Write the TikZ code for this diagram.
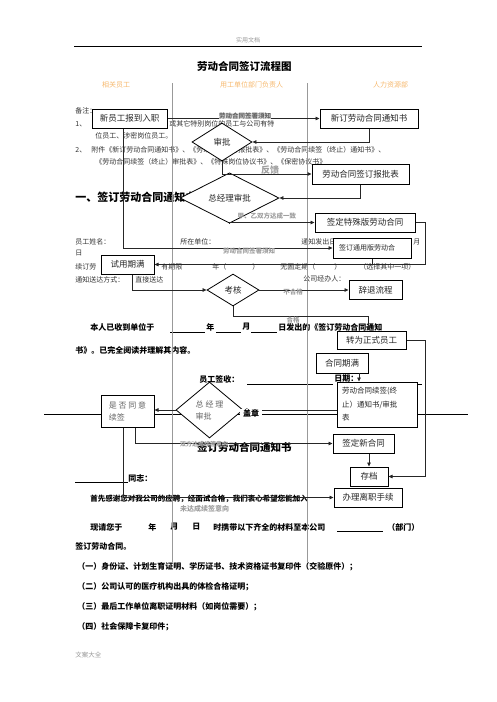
\documentclass[tikz,border=0pt]{standalone}
\usepackage{fontspec}
\setmainfont{Noto Sans CJK SC}
\usetikzlibrary{shapes.geometric,arrows.meta}
\definecolor{headorange}{RGB}{247,185,110}
\XeTeXlinebreaklocale "zh"
\newcommand{\cjkspread}[2]{{\XeTeXlinebreakskip=0pt plus 1fil\makebox[#1pt][s]{#2}}}
\tikzset{every picture/.style={line width=0.75pt}}
\tikzset{
  box/.style={draw=black, line width=1pt, fill=white, inner sep=0pt, text=black!85, font=\fontsize{8.5}{10}\selectfont},
  choice/.style={diamond, draw=black, line width=0.8pt, fill=white, inner sep=0pt, text=black!85, font=\fontsize{8.5}{10}\selectfont},
  flow/.style={-{Triangle[length=4pt,width=3.5pt]}, line width=0.75pt, black!85},
  joint/.style={line width=0.75pt, black!85},
  tag/.style={inner sep=0pt, text=gray!75, font=\bfseries\fontsize{6.5}{8}\selectfont},
  head/.style={inner sep=0pt, text=headorange, font=\fontsize{7}{9}\selectfont},
  doc/.style={anchor=west, inner sep=0pt, text=black!80, font=\fontsize{7}{9}\selectfont},
  docb/.style={anchor=west, inner sep=0pt, text=black, font=\bfseries\fontsize{8}{10}\selectfont},
  lane/.style={gray!80, line width=0.6pt}
}

\begin{document}
\begin{tikzpicture}[x=1pt,y=1pt,yscale=-1,xscale=1]
\useasboundingbox (0,0) rectangle (496,702);
\fill[white] (0,0) rectangle (496,702);

%Page header and title
\node[inner sep=0pt, text=gray!80, font=\fontsize{6}{7}\selectfont] (pagehead) at (248,40) {实用文档};
\draw[line width=0.8pt] (74,46) -- (422,46);
\node[inner sep=0pt, font=\bfseries\fontsize{10.5}{12}\selectfont] (charttitle) at (248.5,66) {\cjkspread{103}{劳动合同签订流程图}};

%Lane heads
\node[head] (lanestaff) at (119.5,85) {\cjkspread{35}{相关员工}};
\node[head] (lanedept) at (259,85) {\cjkspread{78}{用工单位部门负责人}};
\node[head] (lanehr) at (395,85) {\cjkspread{44}{人力资源部}};

%Notes
\node[doc] (note) at (75,111) {备注：};
\node[doc] (noteone) at (75,124) {1、};
\node[doc] (noteonetext) at (169,124) {\cjkspread{147}{或其它特别岗位的员工与公司有特}};
\node[doc] (noteonemore) at (95,136) {\cjkspread{80}{位员工、涉密岗位员工。}};
\node[doc] (notetwo) at (75,150) {2、};
\node[doc] (notetwotext) at (91,150) {\cjkspread{329}{附件《新订劳动合同通知书》、《劳动合同签订报批表》、《劳动合同续签（终止）通知书》、}};
\node[doc] (notetwomore) at (95,162) {\cjkspread{267}{《劳动合同续签（终止）审批表》、《特殊岗位协议书》、《保密协议书》}};

%Notice form
\node[docb, font=\bfseries\fontsize{11}{13}\selectfont] (secone) at (75,197) {\cjkspread{128}{一、签订劳动合同通知书}};
\node[doc] (staffname) at (75,242) {\cjkspread{48}{员工姓名：}};
\node[doc] (staffunit) at (180,242) {\cjkspread{40}{所在单位：}};
\node[doc] (senddate) at (301,242) {\cjkspread{66}{通知发出日期：}};
\node[doc] (sendmonth) at (413,242) {月};
\node[doc] (sendday) at (75,253) {日};
\node[doc] (termlabel) at (75,267) {\cjkspread{25}{续订劳}};
\node[doc] (termfixed) at (161,267) {\cjkspread{23}{有期限}};
\node[doc] (termyear) at (212,267) {年（};
\node[doc] (termyearend) at (252,267) {）};
\node[doc] (termopen) at (280,267) {\cjkspread{42}{无固定期（}};
\node[doc] (termopenend) at (334,267) {）};
\node[doc] (termpick) at (359,267) {\cjkspread{63}{（选择其中一项）}};
\node[doc] (sendway) at (75,280) {\cjkspread{57}{通知送达方式：}};
\node[doc] (sendhand) at (135,280) {\cjkspread{35}{直接送达}};
\node[doc] (handler) at (303,279) {\cjkspread{44}{公司经办人：}};

\node[docb] (receipt) at (90,327) {\cjkspread{78}{本人已收到单位于}};
\draw[line width=0.5pt] (170,332) -- (205,332);
\node[docb] (receiptyear) at (206,327) {年};
\draw[line width=0.5pt] (216,332) -- (241,332);
\node[docb] (receiptmonth) at (242,327) {月};
\draw[line width=0.5pt] (251,332) -- (277,332);
\node[docb] (receiptday) at (278,327) {\cjkspread{129}{日发出的《签订劳动合同通知}};
\node[docb] (receiptmore) at (75,350) {\cjkspread{147}{书》。已完全阅读并理解其内容。}};
\node[docb] (signstaff) at (199,379) {\cjkspread{46}{员工签收：}};
\draw[line width=0.5pt] (247,384) -- (333,384);
\node[docb] (signdate) at (334,379) {\cjkspread{24}{日期：}};
\draw[line width=0.5pt] (358,384) -- (422,384);
\draw[line width=0.8pt] (44,414) -- (468,414);

\node[inner sep=0pt, font=\bfseries\fontsize{10.5}{12}\selectfont] (notetitle) at (248.5,447) {\cjkspread{103}{签订劳动合同通知书}};
\draw[line width=0.5pt] (75,482) -- (128,482);
\node[docb] (comrade) at (128,478) {\cjkspread{24}{同志：}};
\node[docb, font=\bfseries\fontsize{7.5}{9}\selectfont] (thanks) at (90,499) {\cjkspread{244}{首先感谢您对我公司的应聘，经面试合格，我们衷心希望您能加入}};
\node[docb] (please) at (90,527) {\cjkspread{35}{现请您于}};
\node[docb] (pleaseyear) at (148,527) {年};
\node[docb] (pleasemonth) at (170,527) {月};
\node[docb] (pleaseday) at (192,527) {日};
\node[docb] (pleasebring) at (213,527) {\cjkspread{122}{时携带以下齐全的材料至本公司}};
\draw[line width=0.5pt] (337,531) -- (383,531);
\node[docb] (pleasedept) at (387,527) {\cjkspread{32}{（部门）}};
\node[docb] (pleasesign) at (75,546) {\cjkspread{58}{签订劳动合同。}};
\node[docb] (itemone) at (77,567) {\cjkspread{296}{（一）身份证、计划生育证明、学历证书、技术资格证书复印件（交验原件）；}};
\node[docb] (itemtwo) at (77,587) {\cjkspread{193}{（二）公司认可的医疗机构出具的体检合格证明；}};
\node[docb] (itemthree) at (77,607) {\cjkspread{191}{（三）最后工作单位离职证明材料（如岗位需要）；}};
\node[docb] (itemfour) at (77,627) {\cjkspread{98}{（四）社会保障卡复印件；}};
\node[doc, text=gray!80, font=\fontsize{6.5}{8}\selectfont] (pagefoot) at (75,655) {文案大全};

%Lanes
\draw[lane] (172,83) -- (172,562);
\draw[lane] (307,83) -- (307,562);

%Flowchart: Process / Decision
\node[box, minimum width=75, minimum height=19] (newjoin) at (129.5,118.5) {新员工报到入职};
\node[box, minimum width=98, minimum height=19] (notice) at (369,118.5) {新订劳动合同通知书};
\node[choice, minimum width=60, minimum height=38] (check) at (222,142) {审批};
\node[box, minimum width=97, minimum height=20] (report) at (360.5,174) {劳动合同签订报批表};
\node[choice, minimum width=99, minimum height=34] (gmcheck) at (229.5,198) {总经理审批};
\node[box, minimum width=100, minimum height=19] (special) at (365,222.5) {签定特殊版劳动合同};
\node[box, minimum width=78, minimum height=20, font=\fontsize{7}{8}\selectfont] (general) at (372,248) {\cjkspread{66}{签订通用版劳动合}};
\node[box, minimum width=53, minimum height=19] (trial) at (127.5,264.5) {试用期满};
\node[choice, minimum width=52, minimum height=32] (assess) at (233,290) {考核};
\node[box, minimum width=53, minimum height=19] (dismiss) at (375.5,290) {辞退流程};
\node[box, minimum width=69, minimum height=18] (regular) at (371.5,340) {转为正式员工};
\node[box, minimum width=52, minimum height=20] (expire) at (342,363) {合同期满};
\node[box, minimum width=80, minimum height=45, text width=70, align=left, font=\fontsize{7.5}{13.5}\selectfont] (renew) at (377,404.5) {劳动合同续签(终\\止）通知书/审批\\表};
\node[choice, minimum width=67, minimum height=56, align=left, text=black!60, font=\fontsize{8}{12}\selectfont] (gmrenew) at (209.5,410) {总\ 经\ 理\\审批};
\node[box, minimum width=53, minimum height=32, align=left, text=black!60, font=\fontsize{8}{12}\selectfont] (agree) at (127.5,411) {是\ 否\ 同\ 意\\续签};
\node[box, minimum width=61, minimum height=19] (newsign) at (363.5,443.5) {签定新合同};
\node[box, minimum width=38, minimum height=19] (archive) at (369,476.5) {存档};
\node[box, minimum width=68, minimum height=19] (leave) at (368,497.5) {办理离职手续};

%Bends
\coordinate (turnspecial) at (425,264.5);
\coordinate (turnregular) at (425,476.5);
\coordinate (passassess) at (368,316);
\coordinate (expireout) at (359,373);

%Connectors
\draw[flow] (newjoin) -- (notice);
\draw[flow] (notice.south) |- (check.east);
\draw[flow] (check.south) |- (report.west);
\draw[flow] (report.south) |- (gmcheck.east);
\draw[flow] (gmcheck.south) |- (special.west);
\draw[flow] (special.east) -| (turnspecial) -- (trial.east);
\draw[joint] (general.south) -- (general.south |- trial.east);
\draw[flow] ([xshift=-6.5]newjoin.south) |- (general.west);
\draw[flow] ([xshift=4.5]trial.south) |- (assess.west);
\draw[flow] (assess) -- (dismiss);
\draw[flow] (assess.south) |- (passassess) -- (passassess |- regular.north);
\draw[flow] (regular.east) -| (turnregular) -- (archive.east);
\draw[flow] (expireout) -- (expireout |- renew.north);
\draw[flow] (renew.west |- gmrenew.east) -- (gmrenew.east);
\draw[flow] (gmrenew.west) -- (gmrenew.west -| agree.east);
\draw[flow] ([xshift=7.5]agree.south) |- (newsign.west);
\draw[flow] ([xshift=-4.5]agree.south) |- (leave.west);
\draw[flow] (archive.north |- newsign.south) -- (archive.north);

%Connector labels
\node[tag, fill=gray!25, text=black!60] (tagnotice) at (245,116) {劳动合同签署须知};
\node[tag, font=\bfseries\fontsize{9}{10}\selectfont] (tagback) at (270,170) {反馈};
\node[tag] (tagboth) at (268,216) {\cjkspread{61}{甲、乙双方达成一致}};
\node[tag] (taggeneral) at (253,251) {\cjkspread{60}{劳动合同签署须知}};
\node[tag] (tagfail) at (293,292) {不合格};
\node[tag] (tagpass) at (293,320) {合格};
\node[tag, text=black, fill=white, inner xsep=3pt, font=\bfseries\fontsize{8}{9}\selectfont] (tagseal) at (251,413) {盖章};
\node[tag, font=\bfseries\fontsize{6}{7}\selectfont] (tagrenew) at (206,444) {\cjkspread{52}{双方达成续签意向}};
\node[tag, font=\bfseries\fontsize{7}{8}\selectfont] (tagnorenew) at (211,509) {\cjkspread{62}{未达成续签意向}};

\end{tikzpicture}
\end{document}
